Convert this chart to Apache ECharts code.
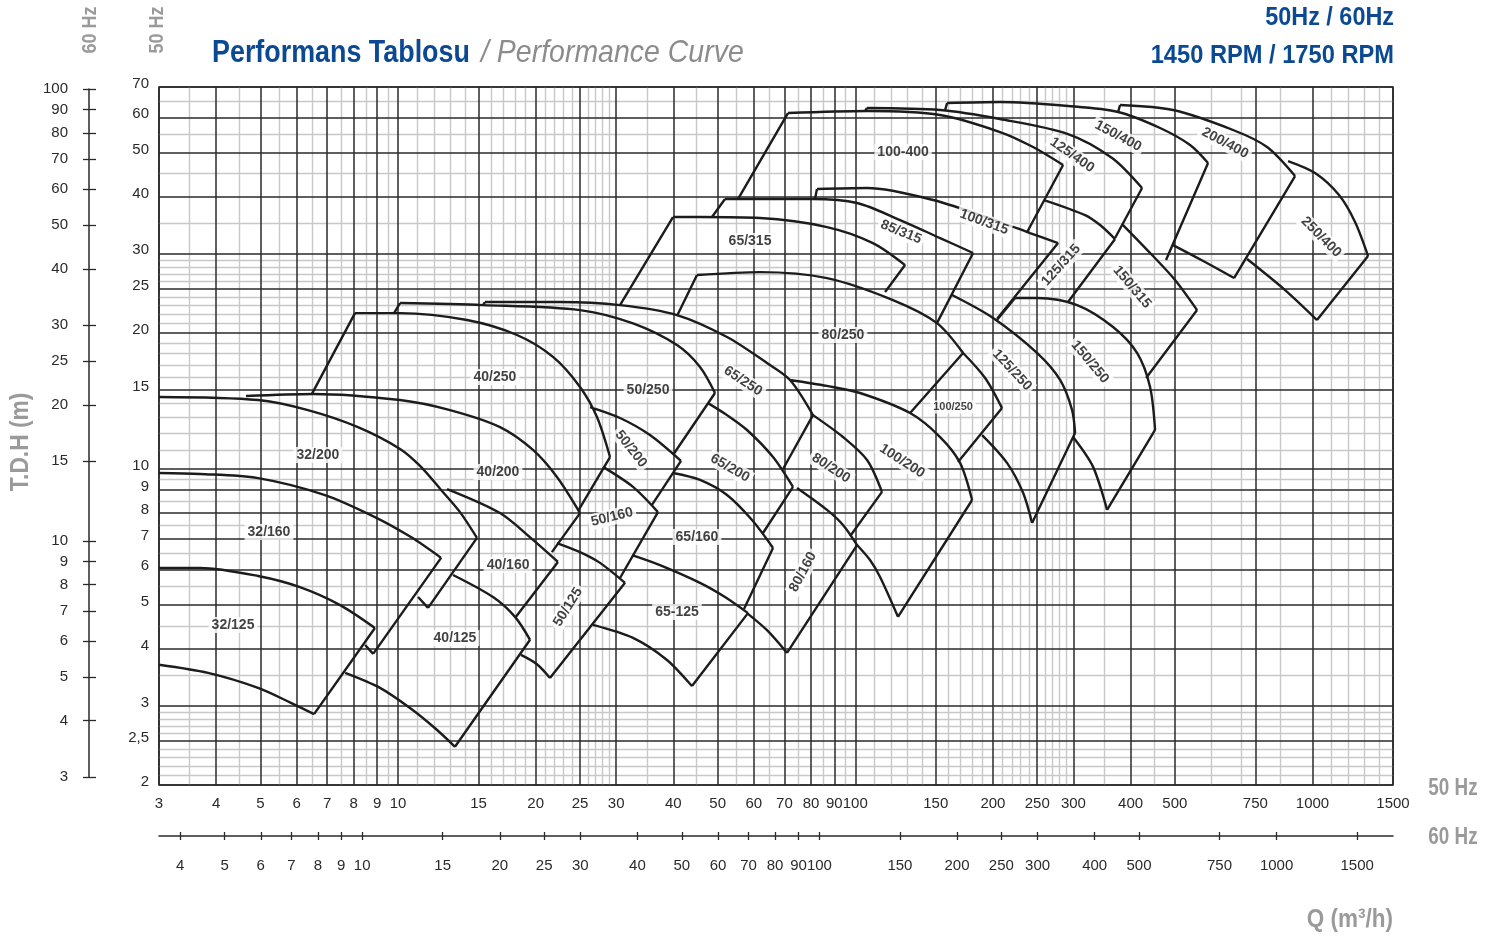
<!DOCTYPE html>
<html>
<head>
<meta charset="utf-8">
<title>Performans Tablosu</title>
<script src="https://cdn.jsdelivr.net/npm/echarts@6/dist/echarts.min.js"></script>
<style>
  html, body { margin: 0; padding: 0; background: #fff; }
  #chart { width: 1498px; height: 940px; }
</style>
</head>
<body>
<div id="chart"></div>
<script>
// axis ticks
const qTicks50 = [3, 4, 5, 6, 7, 8, 9, 10, 15, 20, 25, 30, 40, 50, 60, 70, 80, 90, 100, 150, 200, 250, 300, 400, 500, 750, 1000, 1500]
const qTicks60 = [4, 5, 6, 7, 8, 9, 10, 15, 20, 25, 30, 40, 50, 60, 70, 80, 90, 100, 150, 200, 250, 300, 400, 500, 750, 1000, 1500]
const hTicks50 = [2, 2.5, 3, 4, 5, 6, 7, 8, 9, 10, 15, 20, 25, 30, 40, 50, 60, 70]
const hTicks60 = [3, 4, 5, 6, 7, 8, 9, 10, 15, 20, 25, 30, 40, 50, 60, 70, 80, 90, 100]

// light grid lines
const qMinor = [3.5, 4.5, 5.5, 6.5, 7.5, 8.5, 9.5, 11, 12, 13, 14, 16, 17, 18, 19, 21, 22, 23, 24, 26, 27, 28, 29,
  35, 45, 55, 65, 75, 85, 95, 110, 120, 130, 140, 160, 170, 180, 190, 210, 220, 230, 240, 260, 270, 280, 290,
  350, 450, 600, 700, 850, 1100, 1200, 1300, 1400]
const hMinor = [2.1, 2.2, 2.3, 2.4, 2.6, 2.7, 2.8, 2.9, 3.5, 4.5, 5.5, 6.5, 7.5, 8.5, 9.5, 11, 12, 13, 14,
  16, 17, 18, 19, 21, 22, 23, 24, 26, 27, 28, 29, 35, 45, 55, 65]

// pump models, Q (m3/h) / H (m) at 50 Hz
const pumpNames = ['32/125', '32/160', '32/200', '40/125', '40/160', '40/200', '40/250', '50/125', '50/160', '50/200',
  '50/250', '65-125', '65/160', '65/200', '65/250', '65/315', '80/160', '80/200', '80/250', '85/315', '100/200',
  '100/250', '100/315', '100-400', '125/250', '125/315', '125/400', '150/250', '150/315', '150/400', '200/400', '250/400']

// max impeller curves
const topCurves = [
  [[3, 6.04], [3.69, 6.04], [4.94, 5.80], [6.10, 5.48], [7.47, 5.00], [8.90, 4.45]],
  [[3, 9.80], [3.69, 9.75], [4.94, 9.55], [6.92, 8.76], [8.90, 7.83], [10.67, 7.07], [12.42, 6.36]],
  [[3, 14.43], [4.94, 14.21], [6.35, 13.50], [8.17, 12.38], [10.10, 11.08], [11.17, 10.16], [12.42, 8.99], [13.66, 8.03], [14.88, 7.04]],
  [[13.19, 5.83], [16.13, 5.21], [18.02, 4.71], [19.44, 4.19]],
  [[12.8, 9.03], [16.71, 7.99], [19.73, 6.97], [22.37, 6.23]],
  [[4.65, 14.51], [6.52, 14.66], [10.10, 14.21], [12.99, 13.50], [16.71, 12.38], [19.73, 11.02], [22.26, 9.60], [25.0, 7.99]],
  [[8.05, 22.13], [10.10, 22.13], [14.15, 21.36], [18.20, 19.79], [21.82, 17.70], [25.0, 15.19], [27.23, 13.03], [29.08, 10.63]],
  [[22.26, 6.86], [25.0, 6.55], [27.65, 6.20], [31.36, 5.60]],
  [[28.07, 10.11], [32.65, 9.13], [37.02, 8.03]],
  [[26.29, 13.71], [30.58, 12.97], [35.56, 11.89], [41.57, 10.42]],
  [[10.10, 23.29], [15.34, 23.05], [25.0, 22.47], [32.65, 20.99], [40.74, 18.80], [45.75, 16.82], [49.34, 14.73]],
  [[32.49, 6.45], [37.39, 6.13], [45.75, 5.60], [51.88, 5.21], [58.26, 4.80]],
  [[39.93, 9.80], [45.75, 9.46], [52.42, 8.76], [59.45, 7.71], [66.08, 6.69]],
  [[47.63, 13.99], [52.42, 13.16], [57.97, 12.20], [66.08, 10.63], [73.08, 9.13]],
  [[15.49, 23.41], [22.60, 23.41], [30.58, 23.05], [40.74, 21.91], [52.42, 19.59], [64.11, 17.16], [71.99, 15.74], [80.82, 13.16]],
  [[39.93, 36.09], [45.75, 36.09], [61.89, 35.91], [86.73, 34.30], [109.3, 31.61], [128.5, 28.26]],
  [[74.57, 9.08], [86.73, 8.12], [94.0, 7.52], [100.9, 6.79]],
  [[80.82, 13.16], [94.0, 11.77], [106.1, 10.47], [114.4, 8.90]],
  [[45.06, 26.86], [61.89, 27.27], [86.73, 26.45], [120.9, 23.65], [150.9, 21.03], [172.1, 18.06]],
  [[51.88, 39.56], [80.42, 39.56], [100.9, 38.77], [125.3, 35.55], [153.3, 32.43], [181.0, 30.05]],
  [[71.99, 15.74], [86.73, 15.27], [102.4, 14.73], [131.8, 13.30], [153.3, 11.77], [169.5, 10.32], [180.1, 8.54]],
  [[172.1, 18.06], [192.3, 15.90], [209.4, 13.64]],
  [[82.46, 41.63], [106.1, 41.84], [148.0, 39.36], [207.3, 35.19], [241.1, 33.27], [277.7, 31.61]],
  [[71.26, 61.31], [106.1, 61.94], [153.3, 60.69], [207.3, 55.65], [244.8, 51.56], [284.8, 47.04]],
  [[162.8, 24.26], [200.2, 21.58], [249.7, 18.06], [280.5, 15.74], [298.0, 13.50], [302.5, 12.01]],
  [[258.7, 39.36], [318.1, 36.46], [343.1, 34.65], [370.0, 32.27]],
  [[106.1, 62.89], [153.3, 62.25], [207.3, 59.46], [292.0, 55.09], [364.5, 48.75], [423.9, 41.84]],
  [[223.6, 23.89], [249.7, 23.89], [305.6, 23.05], [366.3, 20.61], [413.3, 18.06], [441.3, 15.19], [452.6, 12.20]],
  [[383.3, 34.83], [448.0, 29.59], [500.5, 26.19], [559.2, 22.47]],
  [[158.8, 64.52], [207.3, 64.85], [292.0, 63.54], [375.7, 61.62], [464.1, 56.80], [539.8, 52.08], [591.0, 47.52]],
  [[379.4, 63.86], [495.5, 62.25], [670.3, 56.23], [795.5, 51.56], [916.0, 44.48]],
  [[884.2, 48.01], [1013, 45.16], [1143, 40.37], [1239, 35.19], [1323, 29.59]]
]

// visible part of min impeller curves (one point = where the right edge stops)
const bottomCurves = [
  [[3, 3.69], [3.84, 3.54], [4.94, 3.28], [5.83, 3.04], [6.55, 2.87]],
  [[8.47, 4.08], [8.82, 3.90]],
  [[11.06, 5.21], [11.63, 4.93]],
  [[7.66, 3.54], [9.13, 3.28], [10.62, 2.96], [12.05, 2.67], [13.32, 2.43]],
  [[18.02, 4.68]],
  [[21.7, 6.55]],
  [[24.8, 8.1]],
  [[18.57, 3.88], [20.13, 3.70], [21.49, 3.45]],
  [[30.58, 5.74]],
  [[35.92, 8.33]],
  [[39.93, 10.74]],
  [[26.69, 4.52], [32.65, 4.23], [38.74, 3.78], [43.94, 3.31]],
  [[57.1, 4.90]],
  [[62.83, 7.22]],
  [[69.5, 10.0]],
  [[116.2, 24.63]],
  [[57.97, 4.80], [64.11, 4.40], [70.90, 3.92]],
  [[97.4, 7.1]],
  [[131.8, 13.30]],
  [[150.9, 21.03]],
  [[100.9, 6.79], [107.7, 6.29], [113.3, 5.77], [124.0, 4.71]],
  [[167.8, 10.37]],
  [[204.3, 21.5]],
  [[237.5, 33.4]],
  [[189.4, 11.89], [214.7, 10.32], [232.8, 8.86], [243.6, 7.60]],
  [[292.0, 23.41]],
  [[370.0, 32.43]],
  [[299.5, 11.77], [331.2, 10.11], [355.4, 8.12]],
  [[432.5, 15.9]],
  [[478.3, 28.99]],
  [[495.5, 31.29], [582.2, 28.70], [673.7, 26.45]],
  [[719.4, 29.14], [871.0, 24.88], [1023, 21.36]]
]

// start of the left edge, where a tile rises from the one under it
const leftFrom = [null, null, null, null, null, null, [6.48, 14.66], null, null, null,
  [9.80, 22.13], null, null, null, [15.34, 23.05], [30.58, 23.05], null, null, [40.74, 21.8], [48.6, 36.09], null,
  null, [81.64, 39.56], [55.39, 39.56], null, null, [105, 61.9], [204.3, 21.4], null, [157.2, 62.2], [375.7, 61.62], null]

// tile names
const labelAt = [[4.355, 4.52], [5.22, 7.26], [6.68, 10.74], [13.32, 4.23], [17.40, 6.13], [16.54, 9.85], [16.29, 15.98],
  [23.53, 4.95], [29.37, 7.83], [32.32, 11.08], [35.21, 14.96], [40.74, 4.83], [45.06, 7.07], [53.21, 10.05],
  [56.81, 15.66], [58.85, 31.94], [76.85, 5.92], [88.50, 10.05], [94.0, 19.79], [125.9, 33.44], [126.6, 10.42],
  [163.6, 13.71], [191.3, 35.19], [127.2, 50.26], [220.2, 16.56], [281.9, 28.26], [298.0, 49.50], [326.2, 17.25],
  [403.1, 25.27], [375.7, 54.53], [643.8, 52.62], [1044, 32.60]]
const labelTurn = [0, 0, 0, 0, 0, 0, 0, 58, 14, -52, 0, 0, 0, -30, -33, 0, 62, -33, 0, -22, -33,
  0, -20, 0, -47, 48, -35, -50, -50, -28, -28, -45]

const sans = "'Liberation Sans', Arial, sans-serif"
const INK = '#1c1c1c'
const DARK = '#2a2a2a'
const LIGHT = '#c8c8c8'
const GREY = '#9a9a9a'
const BLUE = '#0b4a93'
const GAP = ['-', '-']

function chain(parts) {
  const out = []
  parts.forEach(p => { out.push(...p, GAP) })
  return out
}

const curveData = chain(topCurves.concat(bottomCurves.filter(b => b.length > 1)))
const edgeParts = []
pumpNames.forEach((n, i) => {
  const t = topCurves[i], b = bottomCurves[i]
  if (leftFrom[i]) edgeParts.push([leftFrom[i], t[0]])
  edgeParts.push([t[t.length - 1], b[b.length - 1]])
})
const edgeData = chain(edgeParts)

function gridLines(qs, hs, color, width, z) {
  return {
    silent: true,
    symbol: 'none',
    animation: false,
    z: z,
    label: { show: false },
    lineStyle: { color: color, width: width, type: 'solid' },
    data: qs.map(v => ({ xAxis: v })).concat(hs.map(v => ({ yAxis: v })))
  }
}

// condensed look: Liberation Sans squeezed horizontally
function word(text, x, y, size, opts) {
  return {
    type: 'text', x: x, y: y, rotation: opts.rot || 0, scaleX: opts.sx || 0.85, scaleY: 1, z: 20,
    style: {
      text: text, fill: opts.color || GREY,
      font: (opts.style || 'bold') + ' ' + size + 'px ' + sans,
      textAlign: opts.align || 'center', align: opts.align || 'center',
      textVerticalAlign: 'middle', verticalAlign: 'middle'
    }
  }
}

const tickFont = { fontFamily: sans, fontSize: 15, color: '#2a2a2a', formatter: v => String(v) }

const option = {
  animation: false,
  backgroundColor: '#fff',
  graphic: [
    word('Performans Tablosu', 212, 53, 32, { color: BLUE, align: 'left', sx: 0.84 }),
    word('/ Performance Curve', 481, 53, 32, { color: '#8c8c8c', align: 'left', style: 'italic', sx: 0.89 }),
    word('50Hz / 60Hz', 1394, 18, 26, { color: BLUE, align: 'right', sx: 0.9 }),
    word('1450 RPM / 1750 RPM', 1394, 56, 26, { color: BLUE, align: 'right', sx: 0.91 }),
    word('60 Hz', 90, 30, 21, { rot: Math.PI / 2, sx: 0.86 }),
    word('50 Hz', 157, 30, 21, { rot: Math.PI / 2, sx: 0.86 }),
    word('T.D.H (m)', 21, 442, 25, { rot: Math.PI / 2, sx: 0.91 }),
    word('50 Hz', 1453, 789, 23, { sx: 0.82 }),
    word('60 Hz', 1453, 838, 23, { sx: 0.82 }),
    word('Q (m³/h)', 1393, 920, 25, { align: 'right', sx: 0.9 })
  ],
  grid: [
    { left: 159, top: 87, width: 1234, height: 698, show: true, borderColor: DARK, borderWidth: 1.6, backgroundColor: 'transparent' },
    { left: 89, top: 89, width: 1, height: 688 }
  ],
  xAxis: [
    {
      type: 'log', gridIndex: 0, min: 3, max: 1500,
      axisLine: { show: false }, axisTick: { show: false }, splitLine: { show: false }, minorTick: { show: false },
      axisLabel: Object.assign({ customValues: qTicks50, margin: 11 }, tickFont)
    },
    {
      type: 'log', gridIndex: 0, min: 3.594, max: 1797, position: 'bottom', offset: 51,
      axisLine: { show: true, onZero: false, lineStyle: { color: DARK, width: 1.5 } },
      axisTick: { show: true, customValues: qTicks60, length: 4, lineStyle: { color: DARK, width: 1.3 } },
      splitLine: { show: false },
      axisLabel: Object.assign({ customValues: qTicks60, margin: 22 }, tickFont)
    },
    {
      type: 'log', gridIndex: 0, min: 3.594, max: 1797, position: 'bottom', offset: 51,
      axisLine: { show: false },
      axisTick: { show: true, inside: true, customValues: qTicks60, length: 4, lineStyle: { color: DARK, width: 1.3 } },
      splitLine: { show: false }, axisLabel: { show: false }
    },
    { type: 'value', gridIndex: 1, show: false }
  ],
  yAxis: [
    {
      type: 'log', gridIndex: 0, min: 2, max: 70,
      axisLine: { show: false }, axisTick: { show: false }, splitLine: { show: false }, minorTick: { show: false },
      axisLabel: Object.assign({}, tickFont, {
        customValues: hTicks50, margin: 10, verticalAlign: 'bottom', lineHeight: 6,
        formatter: v => String(v).replace('.', ',')
      })
    },
    {
      type: 'log', gridIndex: 1, min: 3, max: 100, position: 'left',
      axisLine: { show: true, onZero: false, lineStyle: { color: DARK, width: 1.5 } },
      axisTick: { show: true, customValues: hTicks60, length: 6, lineStyle: { color: DARK, width: 1.3 } },
      splitLine: { show: false },
      axisLabel: Object.assign({ customValues: hTicks60, margin: 21 }, tickFont)
    },
    {
      type: 'log', gridIndex: 1, min: 3, max: 100, position: 'left',
      axisLine: { show: false },
      axisTick: { show: true, inside: true, customValues: hTicks60, length: 7, lineStyle: { color: DARK, width: 1.3 } },
      splitLine: { show: false }, axisLabel: { show: false }
    }
  ],
  series: [
    { type: 'line', xAxisIndex: 0, yAxisIndex: 0, data: [], z: 1, markLine: gridLines(qMinor, hMinor, LIGHT, 1.4, 1) },
    { type: 'line', xAxisIndex: 0, yAxisIndex: 0, data: [], z: 1, markLine: gridLines(qTicks50, hTicks50, DARK, 1.5, 2) },
    {
      type: 'line', xAxisIndex: 0, yAxisIndex: 0, data: curveData, smooth: 0.3, connectNulls: false,
      showSymbol: false, symbol: 'none', z: 8, lineStyle: { color: INK, width: 2.4 }
    },
    {
      type: 'line', xAxisIndex: 0, yAxisIndex: 0, data: edgeData, smooth: false, connectNulls: false,
      showSymbol: false, symbol: 'none', z: 8, lineStyle: { color: INK, width: 2.4, join: 'miter' }
    },
    {
      type: 'scatter', xAxisIndex: 0, yAxisIndex: 0, symbolSize: 0, z: 10,
      data: labelAt.map((p, i) => ({
        value: p, name: pumpNames[i],
        label: { rotate: labelTurn[i], fontSize: pumpNames[i] === '100/250' ? 11 : 14 }
      })),
      label: {
        show: true, position: 'inside', formatter: '{b}',
        fontFamily: sans, fontWeight: 'bold', color: '#111',
        backgroundColor: '#fff', padding: [1, 3]
      }
    }
  ]
}

const chart = echarts.init(document.getElementById('chart'))
chart.setOption(option)
</script>
</body>
</html>
